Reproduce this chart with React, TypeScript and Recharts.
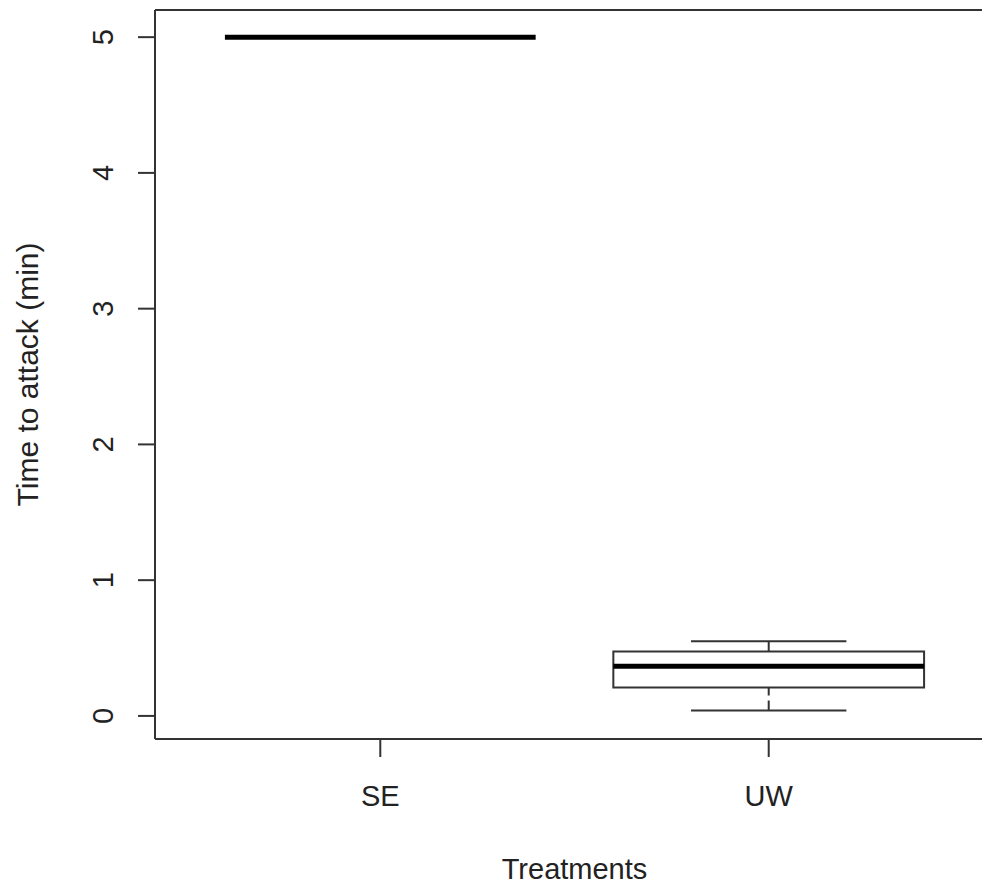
import React from 'react';
import {
  ComposedChart,
  Scatter,
  XAxis,
  YAxis,
  ReferenceArea,
  ReferenceLine,
} from 'recharts';

// groups and their five-number summaries (min, Q1, median, Q3, max)
const groups = ['SE', 'UW'];
const positions = [1, 2];
const whiskerLow = [5, 0.04];
const q1 = [5, 0.21];
const median = [5, 0.365];
const q3 = [5, 0.475];
const whiskerHigh = [5, 0.55];

const yTicks = [0, 1, 2, 3, 4, 5];

const Y_MIN = -0.17;
const Y_MAX = 5.2;
const BOX_HALF = 0.4;
const CAP_HALF = 0.2;
const LINE = '#333';
const FONT = "'Liberation Sans', Arial, sans-serif";

const chartData = groups.map((g, i) => ({ x: positions[i], y: median[i], name: g }));

function XTick(props: any) {
  const { x, y, payload } = props;
  const idx = positions.indexOf(payload.value);
  return (
    <text x={x} y={y + 49} textAnchor="middle" fontSize={29} fill="#222" fontFamily={FONT}>
      {groups[idx] ?? ''}
    </text>
  );
}

function YTick(props: any) {
  const { x, y, payload } = props;
  const tx = x - 25;
  return (
    <text
      x={tx}
      y={y}
      transform={`rotate(-90 ${tx} ${y})`}
      textAnchor="middle"
      fontSize={29}
      fill="#222"
      fontFamily={FONT}
    >
      {payload.value}
    </text>
  );
}

function YTitle(props: any) {
  const { viewBox } = props;
  const cy = viewBox.y + viewBox.height / 2;
  const tx = 38;
  return (
    <text
      x={tx}
      y={cy}
      transform={`rotate(-90 ${tx} ${cy})`}
      textAnchor="middle"
      fontSize={30}
      fill="#222"
      fontFamily={FONT}
    >
      Time to attack (min)
    </text>
  );
}

function XTitle(props: any) {
  const { viewBox } = props;
  return (
    <text
      x={viewBox.x + viewBox.width / 2}
      y={879}
      textAnchor="middle"
      fontSize={29}
      fill="#222"
      fontFamily={FONT}
    >
      Treatments
    </text>
  );
}

export default function App() {
  return (
    <div
      style={{
        position: 'absolute',
        left: 0,
        top: 0,
        width: 982,
        height: 888,
        overflow: 'hidden',
        background: '#fff',
      }}
    >
      <ComposedChart
        width={994}
        height={888}
        data={chartData}
        margin={{ top: 10, right: 0, bottom: 0, left: 0 }}
        style={{ fontFamily: FONT }}
      >
        <XAxis
          dataKey="x"
          type="number"
          domain={[0.42, 2.58]}
          ticks={positions}
          allowDataOverflow
          height={149}
          tickSize={18}
          tickMargin={0}
          tick={<XTick />}
          axisLine={{ stroke: LINE, strokeWidth: 2 }}
          tickLine={{ stroke: LINE, strokeWidth: 2 }}
          label={<XTitle />}
        />
        <YAxis
          type="number"
          domain={[Y_MIN, Y_MAX]}
          ticks={yTicks}
          allowDataOverflow
          width={155}
          tickSize={17}
          tickMargin={0}
          tick={<YTick />}
          axisLine={{ stroke: LINE, strokeWidth: 2 }}
          tickLine={{ stroke: LINE, strokeWidth: 2 }}
          label={<YTitle />}
        />
        {/* top edge of the plot frame */}
        <ReferenceLine y={Y_MAX} stroke={LINE} strokeWidth={2} ifOverflow="visible" />
        {groups.map((g, i) => {
          const p = positions[i];
          return (
            <React.Fragment key={g}>
              <ReferenceLine
                segment={[{ x: p, y: whiskerLow[i] }, { x: p, y: q1[i] }]}
                stroke={LINE}
                strokeWidth={2}
                strokeDasharray="10 5"
              />
              <ReferenceLine
                segment={[{ x: p, y: whiskerHigh[i] }, { x: p, y: q3[i] }]}
                stroke={LINE}
                strokeWidth={2}
                strokeDasharray="10 5"
              />
              <ReferenceLine
                segment={[{ x: p - CAP_HALF, y: whiskerLow[i] }, { x: p + CAP_HALF, y: whiskerLow[i] }]}
                stroke={LINE}
                strokeWidth={2}
              />
              <ReferenceLine
                segment={[{ x: p - CAP_HALF, y: whiskerHigh[i] }, { x: p + CAP_HALF, y: whiskerHigh[i] }]}
                stroke={LINE}
                strokeWidth={2}
              />
              <ReferenceArea
                x1={p - BOX_HALF}
                x2={p + BOX_HALF}
                y1={q1[i]}
                y2={q3[i]}
                fill="#fff"
                fillOpacity={1}
                stroke={LINE}
                strokeWidth={2}
              />
              <ReferenceLine
                segment={[{ x: p - BOX_HALF, y: median[i] }, { x: p + BOX_HALF, y: median[i] }]}
                stroke="#000"
                strokeWidth={5}
              />
            </React.Fragment>
          );
        })}
        <Scatter dataKey="y" isAnimationActive={false} shape={() => <g />} />
      </ComposedChart>
    </div>
  );
}
